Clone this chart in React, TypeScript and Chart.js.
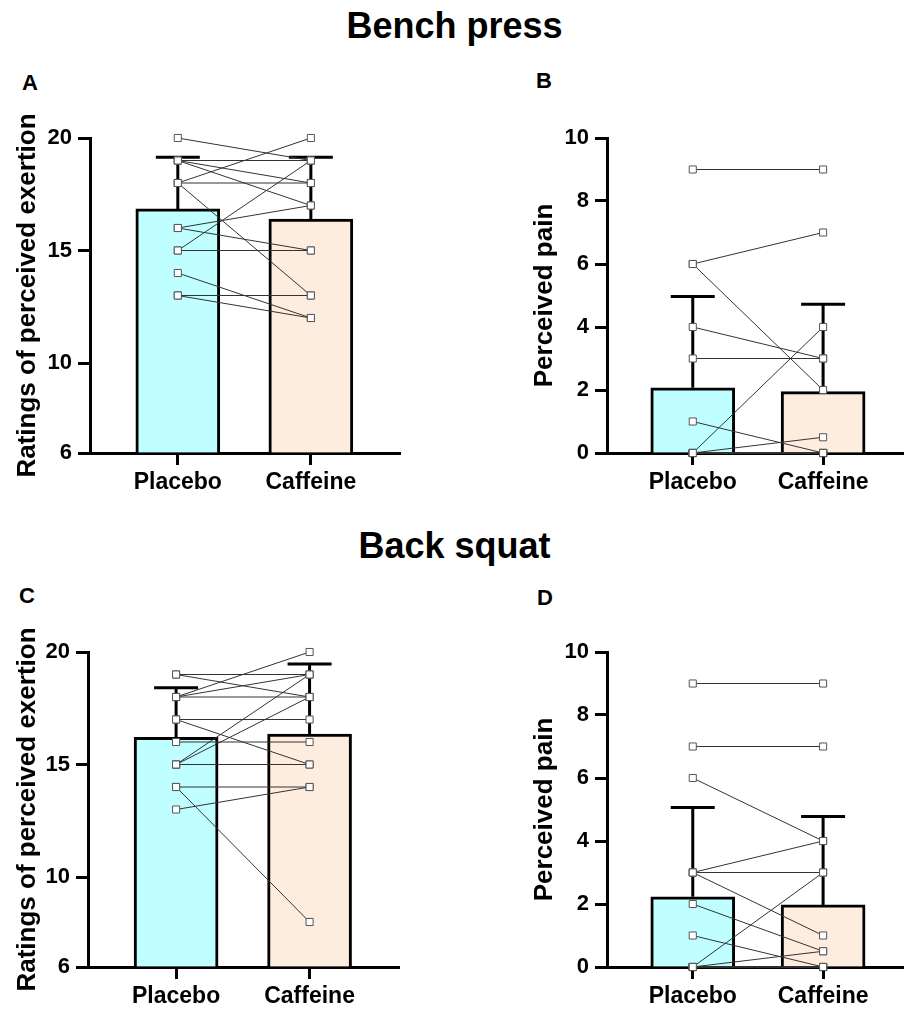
import React, { useEffect, useRef } from 'react';
import { Chart, registerables } from 'chart.js';
Chart.register(...registerables);

Chart.defaults.font.family = "'Liberation Sans', Arial, Helvetica, sans-serif";

const groupLabels = ['Placebo', 'Caffeine'];
const barColors = ['#BFFFFF', '#FDEDDF'];

// Bench press – ratings of perceived exertion (per subject)
const benchRpePlacebo = [20, 19, 19, 19, 18, 18, 18, 16, 16, 15, 15, 14, 13, 13];
const benchRpeCaffeine = [19, 19, 18, 17, 20, 18, 13, 17, 15, 15, 19, 12, 13, 12];
const benchRpeMean = [16.85, 16.4];
const benchRpeSD = [2.3, 2.75];

// Bench press – perceived pain
const benchPainPlacebo = [9, 6, 6, 4, 3, 1, 0, 0, 0, 0, 0, 0, 0, 0];
const benchPainCaffeine = [9, 7, 2, 3, 3, 0, 4, 0.5, 0, 0, 0, 0, 0, 0];
const benchPainMean = [2.07, 1.95];
const benchPainSD = [2.9, 2.77];

// Back squat – ratings of perceived exertion
const squatRpePlacebo = [19, 19, 18, 18, 18, 17, 17, 16, 15, 15, 15, 14, 14, 13];
const squatRpeCaffeine = [19, 18, 20, 19, 18, 17, 15, 16, 19, 18, 15, 14, 8, 14];
const squatRpeMean = [16.21, 16.35];
const squatRpeSD = [2.2, 3.12];

// Back squat – perceived pain
const squatPainPlacebo = [9, 7, 6, 3, 3, 3, 2, 1, 0, 0, 0, 0, 0, 0];
const squatPainCaffeine = [9, 7, 4, 4, 3, 1, 0.5, 0, 3, 0.5, 0, 0, 0, 0];
const squatPainMean = [2.23, 1.97];
const squatPainSD = [2.83, 2.81];

const rpeTicks = [6, 10, 15, 20];
const painTicks = [0, 2, 4, 6, 8, 10];

const errPlugin = {
  id: 'errbar',
  afterDatasetDraw(chart: any, args: any, opts: any) {
    if (args.meta.type !== 'bar') return;
    const ctx = chart.ctx;
    const xs = chart.scales.x;
    const ys = chart.scales.y;
    ctx.save();
    ctx.strokeStyle = '#000';
    ctx.lineWidth = 3;
    ctx.lineCap = 'butt';
    opts.means.forEach((m: number, i: number) => {
      const x = xs.getPixelForValue(i);
      const y0 = ys.getPixelForValue(m);
      const y1 = ys.getPixelForValue(m + opts.sds[i]);
      ctx.beginPath();
      ctx.moveTo(x, y0);
      ctx.lineTo(x, y1);
      ctx.moveTo(x - 22, y1);
      ctx.lineTo(x + 22, y1);
      ctx.stroke();
    });
    ctx.restore();
  },
};

type PanelProps = {
  left: number; top: number; width: number; height: number;
  axisW: number; padTop: number; xScaleH: number; padRight: number;
  yMin: number; yMax: number; yTicks: number[]; yTitle: string; titlePad: number;
  xMin: number; xMax: number;
  placebo: number[]; caffeine: number[]; means: number[]; sds: number[];
};

function Panel(p: PanelProps) {
  const ref = useRef<HTMLCanvasElement>(null);
  useEffect(() => {
    if (!ref.current) return;
    const lineSets = p.placebo.map((v, i) => ({
      type: 'line' as const,
      data: [{ x: 0, y: v }, { x: 1, y: p.caffeine[i] }],
      borderColor: '#333',
      borderWidth: 1,
      pointStyle: 'rect',
      pointRadius: 5,
      pointBackgroundColor: '#fff',
      pointBorderColor: '#555',
      pointBorderWidth: 1,
      tension: 0,
      clip: false,
      order: 0,
    }));
    const chart = new Chart(ref.current, {
      type: 'bar',
      data: {
        datasets: [
          {
            type: 'bar',
            data: p.means.map((m, i) => ({ x: i, y: m })),
            backgroundColor: barColors,
            borderColor: '#000',
            borderWidth: 3,
            barThickness: 84,
            base: p.yMin,
            order: 10,
          } as any,
          ...lineSets,
        ],
      },
      options: {
        responsive: false,
        animation: false,
        devicePixelRatio: 1,
        layout: { padding: { top: p.padTop, right: p.padRight, left: 0, bottom: 0 } },
        plugins: {
          legend: { display: false },
          tooltip: { enabled: false },
          errbar: { means: p.means, sds: p.sds },
        } as any,
        scales: {
          x: {
            type: 'linear',
            min: p.xMin,
            max: p.xMax,
            offset: false,
            afterBuildTicks: (s: any) => { s.ticks = [{ value: 0 }, { value: 1 }]; },
            afterFit: (s: any) => { s.height = p.xScaleH; },
            border: { display: true, color: '#000', width: 3 },
            grid: { offset: false, drawOnChartArea: false, drawTicks: true, tickLength: 12, tickWidth: 3, tickColor: '#000' },
            ticks: {
              color: '#000',
              font: { size: 23, weight: 'bold' },
              padding: 4,
              maxRotation: 0,
              autoSkip: false,
              callback: (_v: any, i: number) => groupLabels[i],
            },
          },
          y: {
            type: 'linear',
            min: p.yMin,
            max: p.yMax,
            afterBuildTicks: (s: any) => { s.ticks = p.yTicks.map((v) => ({ value: v })); },
            afterFit: (s: any) => { s.width = p.axisW; },
            border: { display: true, color: '#000', width: 3 },
            grid: { drawOnChartArea: false, drawTicks: true, tickLength: 12, tickWidth: 3, tickColor: '#000' },
            ticks: { color: '#000', font: { size: 22, weight: 'bold' }, padding: 6 },
            title: {
              display: true,
              text: p.yTitle,
              color: '#000',
              font: { size: 26, weight: 'bold' },
              padding: { top: p.titlePad, bottom: 0 },
            },
          },
        },
      } as any,
      plugins: [errPlugin],
    });
    return () => chart.destroy();
  }, []);
  return (
    <canvas
      ref={ref}
      width={p.width}
      height={p.height}
      style={{ position: 'absolute', left: p.left, top: p.top, width: p.width, height: p.height }}
    />
  );
}

const headStyle: React.CSSProperties = {
  position: 'absolute', left: 0, width: 909, textAlign: 'center',
  fontSize: 36, fontWeight: 'bold', lineHeight: 1, color: '#000',
};
const letterStyle: React.CSSProperties = {
  position: 'absolute', fontSize: 22, fontWeight: 'bold', lineHeight: 1, color: '#000',
};

export default function App() {
  return (
    <div style={{
      position: 'absolute', left: 0, top: 0, width: 909, height: 1012, overflow: 'hidden',
      background: '#fff', fontFamily: "'Liberation Sans', Arial, Helvetica, sans-serif",
    }}>
      <div style={{ ...headStyle, top: 8 }}>Bench press</div>
      <div style={{ ...headStyle, top: 528 }}>Back squat</div>
      <div style={{ ...letterStyle, left: 22, top: 72 }}>A</div>
      <div style={{ ...letterStyle, left: 536, top: 70 }}>B</div>
      <div style={{ ...letterStyle, left: 19, top: 585 }}>C</div>
      <div style={{ ...letterStyle, left: 537, top: 587 }}>D</div>
      <Panel left={0} top={100} width={450} height={420} axisW={90} padTop={38} xScaleH={67} padRight={50}
        yMin={6} yMax={20} yTicks={rpeTicks} yTitle="Ratings of perceived exertion" titlePad={12}
        xMin={-0.66} xMax={1.67}
        placebo={benchRpePlacebo} caffeine={benchRpeCaffeine} means={benchRpeMean} sds={benchRpeSD} />
      <Panel left={500} top={100} width={409} height={420} axisW={107} padTop={38} xScaleH={67} padRight={0}
        yMin={0} yMax={10} yTicks={painTicks} yTitle="Perceived pain" titlePad={29}
        xMin={-0.658} xMax={1.613}
        placebo={benchPainPlacebo} caffeine={benchPainCaffeine} means={benchPainMean} sds={benchPainSD} />
      <Panel left={0} top={612} width={450} height={400} axisW={88} padTop={40} xScaleH={45} padRight={51}
        yMin={6} yMax={20} yTicks={rpeTicks} yTitle="Ratings of perceived exertion" titlePad={12}
        xMin={-0.66} xMax={1.67}
        placebo={squatRpePlacebo} caffeine={squatRpeCaffeine} means={squatRpeMean} sds={squatRpeSD} />
      <Panel left={500} top={612} width={409} height={400} axisW={107} padTop={40} xScaleH={45} padRight={0}
        yMin={0} yMax={10} yTicks={painTicks} yTitle="Perceived pain" titlePad={29}
        xMin={-0.658} xMax={1.613}
        placebo={squatPainPlacebo} caffeine={squatPainCaffeine} means={squatPainMean} sds={squatPainSD} />
    </div>
  );
}
